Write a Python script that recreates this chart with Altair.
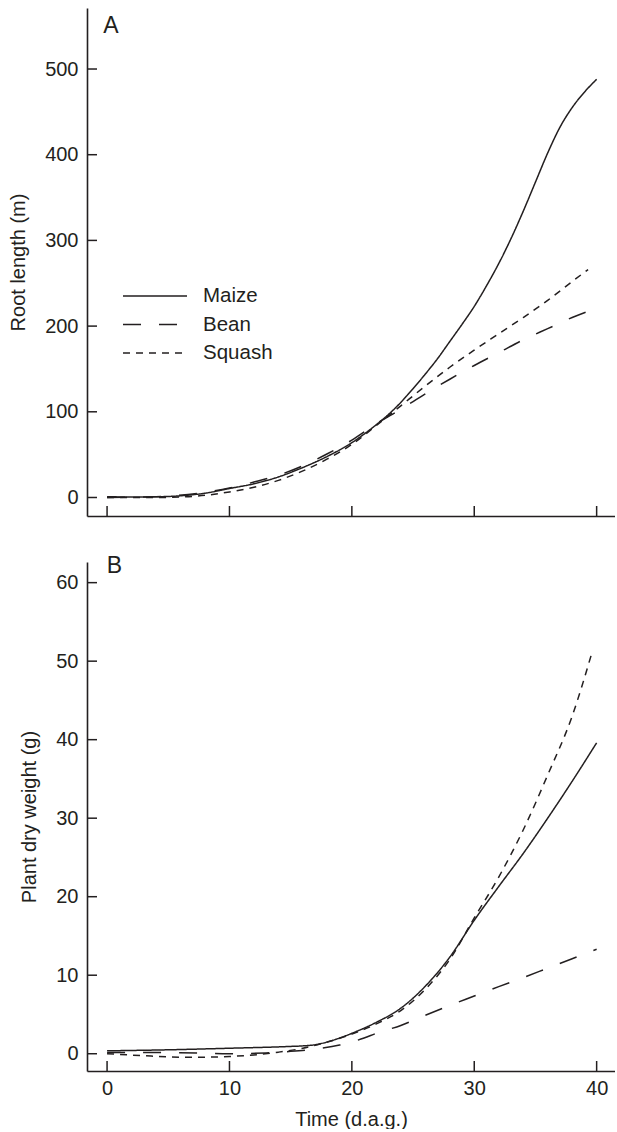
import altair as alt
import pandas as pd

# ---------------- data ----------------
SERIES = ["Maize", "Bean", "Squash"]
DASHES = [[1, 0], [18, 18], [7, 6]]

# Panel A: root length (m) vs time (d.a.g.)
maize_a_x = [0, 2, 4, 6, 8, 10, 12, 14, 16, 18, 20, 21, 22, 23, 24, 25, 26, 27, 28, 29, 30,
             31, 32, 33, 34, 35, 36, 37, 38, 39, 40]
maize_a_y = [1, 0.5, 0.8, 2, 5, 10.5, 16, 24, 35, 48, 64, 74, 85, 97, 111, 127, 144, 162, 182, 202, 223,
             247, 273, 302, 334, 368, 402, 432, 455, 473, 488]

bean_a_x = [0, 4, 8, 10, 12, 14, 16, 18, 20, 22, 24, 26, 28, 30, 32, 34, 36, 38, 40]
bean_a_y = [0, 1, 6, 11, 18, 26, 37, 51, 67, 86, 103, 121, 138, 154, 169, 184, 197, 210, 221]

squash_a_x = [0, 4, 6, 8, 10, 12, 14, 16, 18, 20, 22, 24, 26, 28, 30, 32, 34, 36, 38, 39.3]
squash_a_y = [0, 0, 0.5, 2.5, 6.5, 12, 20, 31, 45, 62, 84, 107, 130, 152, 172, 191, 210, 230, 252, 266]

# Panel B: plant dry weight (g) vs time (d.a.g.)
maize_b_x = [0, 5, 10, 15, 16, 17, 18, 19, 20, 22, 24, 26, 28, 30, 32, 34, 36, 38, 40]
maize_b_y = [0.37, 0.5, 0.7, 0.93, 1.0, 1.15, 1.5, 2.0, 2.6, 4.0, 5.8, 8.6, 12.3, 17.0, 21.3, 25.5, 30.0, 34.7, 39.6]

bean_b_x = [0, 5, 10, 13, 15, 17, 19, 20, 21, 22, 24, 26, 28, 30, 32, 34, 36, 38, 40]
bean_b_y = [0.15, 0.15, 0.0, 0.1, 0.3, 0.6, 1.1, 1.5, 2.0, 2.6, 3.6, 4.9, 6.15, 7.35, 8.55, 9.7, 10.9, 12.1, 13.3]

squash_b_x = [0, 3, 5, 7, 10, 12, 14, 16, 18, 20, 22, 24, 26, 28, 30, 32, 34, 36, 38, 39.6]
squash_b_y = [0, -0.25, -0.4, -0.45, -0.35, -0.15, 0.2, 0.7, 1.5, 2.5, 3.8, 5.5, 8.2, 12.0, 17.3, 22.5, 28.5, 35.5, 43.0, 51.0]

x_ticks = [0, 10, 20, 30, 40]
ya_ticks = [0, 100, 200, 300, 400, 500]
yb_ticks = [0, 10, 20, 30, 40, 50, 60]

# ---------------- styling ----------------
FONT = "Liberation Sans"
INK = "#231f20"
W = 528
HA = 508
HB = 509
TICK = 10


def frame(xs, ys, name):
    return pd.DataFrame({"t": xs, "v": ys, "crop": name})


dfA = pd.concat([frame(maize_a_x, maize_a_y, "Maize"),
                 frame(bean_a_x, bean_a_y, "Bean"),
                 frame(squash_a_x, squash_a_y, "Squash")], ignore_index=True)
dfB = pd.concat([frame(maize_b_x, maize_b_y, "Maize"),
                 frame(bean_b_x, bean_b_y, "Bean"),
                 frame(squash_b_x, squash_b_y, "Squash")], ignore_index=True)

x_scale = alt.Scale(domain=[-1.64, 41.5], nice=False, zero=False)


def panel(df, ydomain, yticks, ytitle, height, letter, letter_xy, show_x_labels, legend):
    x_axis = alt.Axis(
        values=x_ticks, labels=show_x_labels, ticks=False, grid=False,
        title="Time (d.a.g.)" if show_x_labels else None,
        domainColor=INK, domainWidth=1.6,
        labelPadding=7, titlePadding=11,
    )
    y_axis = alt.Axis(
        values=yticks, ticks=False, grid=False, title=ytitle,
        domainColor=INK, domainWidth=1.6,
        labelPadding=9, titlePadding=16,
    )
    y_scale = alt.Scale(domain=ydomain, nice=False, zero=False)
    X = alt.X("t:Q", scale=x_scale, axis=x_axis)
    Y = alt.Y("v:Q", scale=y_scale, axis=y_axis)

    lines = alt.Chart(df).mark_line(
        color=INK, strokeWidth=1.5, interpolate="monotone"
    ).encode(
        x=X,
        y=Y,
        strokeDash=alt.StrokeDash(
            "crop:N",
            scale=alt.Scale(domain=SERIES, range=DASHES),
            legend=legend,
        ),
        detail="crop:N",
    )

    xt = alt.Chart(pd.DataFrame({"t": x_ticks})).mark_rule(
        color=INK, strokeWidth=1.5
    ).encode(
        x=X,
        y=alt.value(height),
        y2=alt.value(height - TICK),
    )
    yt = alt.Chart(pd.DataFrame({"v": yticks})).mark_rule(
        color=INK, strokeWidth=1.5
    ).encode(
        y=Y,
        x=alt.value(0),
        x2=alt.value(TICK),
    )
    label = alt.Chart(pd.DataFrame({"letter": [letter]})).mark_text(
        font=FONT, fontSize=23, color=INK, align="center", baseline="middle"
    ).encode(
        text="letter:N",
        x=alt.value(letter_xy[0]),
        y=alt.value(letter_xy[1]),
    )
    return alt.layer(lines, xt, yt, label).properties(width=W, height=height)


legend_a = alt.Legend(
    title=None, orient="none", legendX=51, legendY=271,
    symbolType="M-2,0H2", symbolSize=1024, symbolStrokeWidth=1.5,
    symbolStrokeColor=INK, symbolFillColor=INK,
    labelFont=FONT, labelFontSize=20.5, labelColor=INK,
    labelOffset=31, rowPadding=0.5,
)

top = panel(dfA, [-21.6, 571.2], ya_ticks, "Root length (m)", HA, "A", (24, 18), False, legend_a)
bottom = panel(dfB, [-2.2, 62.63], yb_ticks, "Plant dry weight (g)", HB, "B", (27.5, 4), True, None)

chart = alt.vconcat(top, bottom, spacing=38).resolve_scale(
    strokeDash="independent", y="independent"
).properties(
    padding={"left": 8, "top": 8, "right": 0, "bottom": 0}
).configure_view(stroke=None).configure_axis(
    labelFont=FONT, titleFont=FONT, labelFontSize=20, titleFontSize=20,
    titleFontWeight="normal", labelColor=INK, titleColor=INK,
).configure_legend(labelFont=FONT)

chart.save("out.html", embed_options={"renderer": "svg", "actions": False})
